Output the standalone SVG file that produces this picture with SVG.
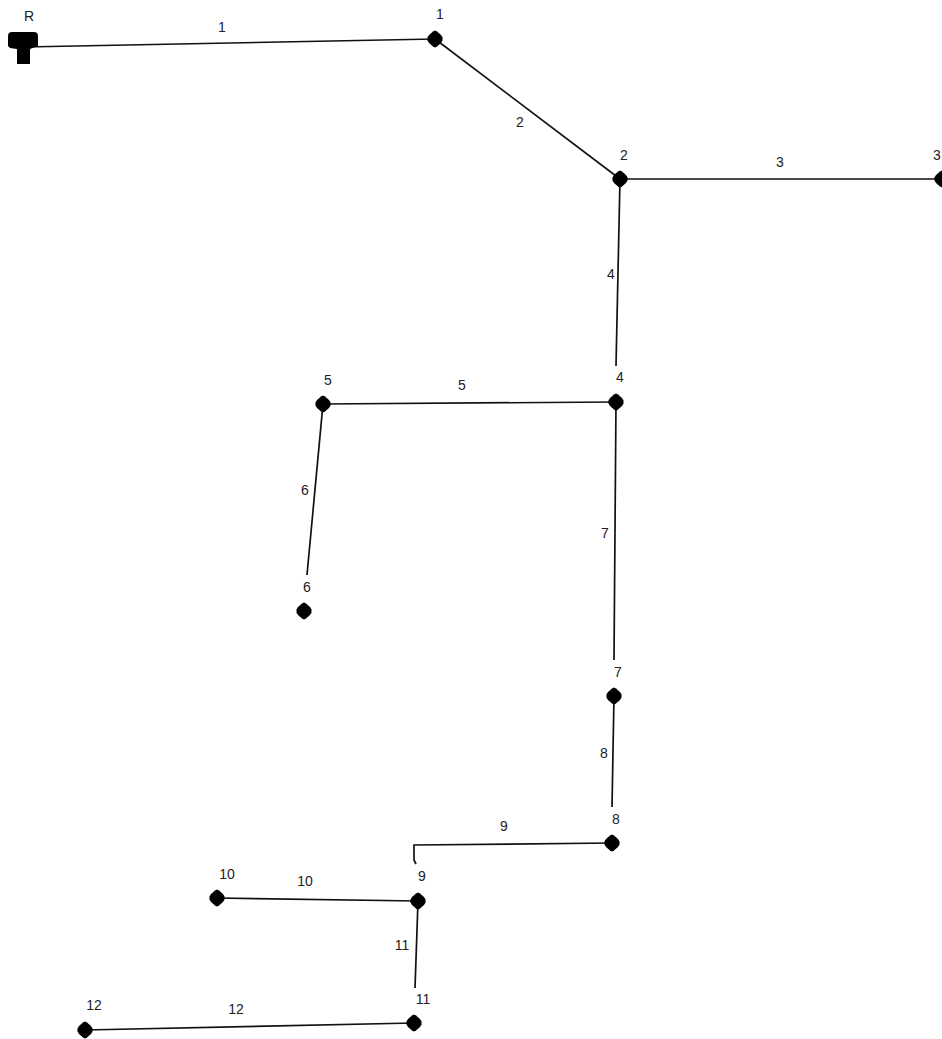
<svg xmlns="http://www.w3.org/2000/svg" width="942" height="1039" viewBox="0 0 942 1039">
<style>
text{font-family:"Liberation Sans",Arial,sans-serif;font-size:14px;fill:#222;text-anchor:middle}
.l{fill:none;stroke:#111;stroke-width:1.7}
.n{fill:#000}
</style>
<defs><path id="d" d="M0-8.500L2-7.500L6-4L7.500-1.500L7.500 1.500L6 4L2 7.500L0 8.500L-2 7.500L-6 4L-7.500 1.500L-7.500-1.500L-6-4L-2-7.500Z" class="n"/></defs>
<rect width="942" height="1039" fill="#fff"/>
<g id="connectors">
<path class="l" d="M24 47L435 39"/><path class="l" d="M435 39L620 179"/><path class="l" d="M620 179L942 179"/>
<path class="l" d="M620 179L616 366"/><path class="l" d="M616 402L323 404"/><path class="l" d="M323 404L307 575"/>
<path class="l" d="M616 402L614 660"/><path class="l" d="M614 696L612 807"/><path class="l" d="M612 843L414 845L414 860L416 864"/>
<path class="l" d="M418 901L217 898"/><path class="l" d="M418 901L415 988"/><path class="l" d="M414 1023L85 1030"/>
<text x="222" y="32">1</text><text x="520" y="127">2</text><text x="780" y="167">3</text><text x="611" y="279">4</text>
<text x="462" y="390">5</text><text x="305" y="495">6</text><text x="605" y="538">7</text><text x="604" y="758">8</text>
<text x="504" y="831">9</text><text x="305" y="886">10</text><text x="402" y="950">11</text><text x="236" y="1014">12</text>
</g>
<g id="reservoir"><path class="n" d="M8 36Q8 32 12 32L34 32Q38 32 38 36L38 46L30 49L30 64L17 64L17 49L10 48L8 46Z"/><text x="29" y="21">R</text></g>
<g id="n1"><use href="#d" x="435" y="39"/><text x="440" y="19">1</text></g>
<g id="n2"><use href="#d" x="620" y="179"/><text x="624" y="160">2</text></g>
<g id="n3"><use href="#d" x="942" y="179"/><text x="937" y="160">3</text></g>
<g id="n4"><use href="#d" x="616" y="402"/><text x="620" y="382">4</text></g>
<g id="n5"><use href="#d" x="323" y="404"/><text x="328" y="385">5</text></g>
<g id="n6"><use href="#d" x="304" y="611"/><text x="307" y="592">6</text></g>
<g id="n7"><use href="#d" x="614" y="696"/><text x="618" y="677">7</text></g>
<g id="n8"><use href="#d" x="612" y="843"/><text x="616" y="824">8</text></g>
<g id="n9"><use href="#d" x="418" y="901"/><text x="422" y="881">9</text></g>
<g id="n10"><use href="#d" x="217" y="898"/><text x="227" y="879">10</text></g>
<g id="n11"><use href="#d" x="414" y="1023"/><text x="423" y="1004">11</text></g>
<g id="n12"><use href="#d" x="85" y="1030"/><text x="94" y="1010">12</text></g>
</svg>
